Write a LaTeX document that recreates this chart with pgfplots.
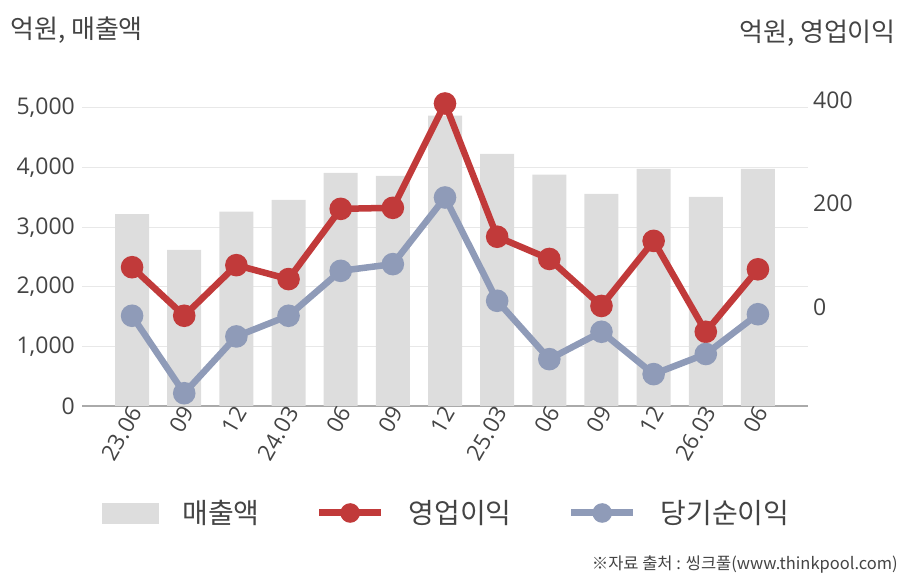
\documentclass[border=0pt]{standalone}
\usepackage{pgfplots}
\pgfplotsset{compat=1.18}
\usepackage{fontspec}
\setmainfont{Open Sans}
\newfontfamily\kr{Noto Sans CJK KR}
\definecolor{barcol}{HTML}{DDDDDD}
\definecolor{redc}{HTML}{C13A3A}
\definecolor{bluec}{HTML}{8F9BB8}
\definecolor{txt}{HTML}{444444}
\definecolor{gridc}{HTML}{E8E8E8}
\definecolor{axc}{HTML}{AAAAAA}
\begin{document}
\begin{tikzpicture}[x=1bp,y=1bp]
\path[use as bounding box] (0,0) rectangle (908,580);
\begin{axis}[
  at={(82bp,174bp)}, anchor=south west,
  scale only axis, width=726bp, height=327.8bp,
  xmin=-0.96, xmax=12.96, ymin=0, ymax=5500,
  axis lines*=left,
  y axis line style={draw=none},
  x axis line style={draw=axc, line width=1.2bp, -},
  major tick length=0pt,
  xtick={0,...,12},
  xticklabels={23.06,09,12,24.03,06,09,12,25.03,06,09,12,26.03,06},
  xticklabel style={rotate=60, anchor=east, font=\fontsize{22.5bp}{26bp}\selectfont, text=txt, inner sep=2bp, yshift=-5bp, xshift=2bp},
  ytick={0,1000,2000,3000,4000,5000},
  yticklabel style={font=\fontsize{23bp}{27bp}\selectfont, text=txt, inner sep=0pt, xshift=-7bp},
  /pgf/number format/assume math mode=true,
  /pgf/number format/1000 sep={,},
  ymajorgrids, grid style={gridc, line width=1bp},
  clip=false,
]
\addplot[ybar, bar width=34bp, fill=barcol, draw=none] coordinates {
(0,3220) (1,2620) (2,3260) (3,3460) (4,3910) (5,3860) (6,4870) (7,4230) (8,3880) (9,3560) (10,3980) (11,3510) (12,3980)};
\end{axis}
\begin{axis}[
  at={(82bp,174bp)}, anchor=south west,
  scale only axis, width=726bp, height=327.8bp,
  xmin=-0.96, xmax=12.96, ymin=-191.7, ymax=443,
  axis x line=none,
  axis y line*=right,
  y axis line style={draw=none},
  major tick length=0pt,
  ytick={0,200,400},
  yticklabel style={font=\fontsize{23bp}{27bp}\selectfont, text=txt, inner sep=0pt, xshift=5bp, anchor=west},
  /pgf/number format/assume math mode=true,
  clip=false,
  legend columns=3,
  legend style={at={(rel axis cs:0.0275,-0.3264)}, anchor=west, draw=none, fill=none, inner sep=0pt, outer sep=0pt,
    font=\kr\fontsize{28bp}{33bp}\selectfont, text=txt,
    nodes={inner sep=0pt},
    /tikz/every odd column/.append style={column sep=24bp},
    /tikz/every even column/.append style={column sep=56bp}},
]
\addlegendimage{legend image code/.code={\fill[barcol] (0bp,-10bp) rectangle (56bp,10bp);}}
\addlegendentry{매출액}
\addplot[redc, line width=6.5bp, mark=*, mark size=8bp, mark options={fill=redc, draw=none},
  legend image code/.code={\draw[redc, line width=7bp] (0bp,0bp) -- (62bp,0bp); \fill[redc] (31bp,0bp) circle (6.5bp);}]
  coordinates {(0,77) (1,-17) (2,81) (3,54) (4,190) (5,192) (6,394) (7,136) (8,93) (9,2) (10,128) (11,-48) (12,73)};
\addlegendentry{영업이익}
\addplot[bluec, line width=6.5bp, mark=*, mark size=8bp, mark options={fill=bluec, draw=none},
  legend image code/.code={\draw[bluec, line width=7bp] (0bp,0bp) -- (62bp,0bp); \fill[bluec] (31bp,0bp) circle (6.5bp);}]
  coordinates {(0,-17) (1,-167) (2,-57) (3,-17) (4,70) (5,83) (6,212) (7,12) (8,-101) (9,-48) (10,-130) (11,-91) (12,-14)};
\addlegendentry{당기순이익}
\end{axis}
\node[anchor=west, text=txt, font=\kr\fontsize{26bp}{30bp}\selectfont, inner sep=0pt] at (10,550) {억원, 매출액};
\node[anchor=east, text=txt, font=\kr\fontsize{26bp}{30bp}\selectfont, inner sep=0pt] at (896,547) {억원, 영업이익};
\node[anchor=east, text=txt, font=\kr\fontsize{16.5bp}{20bp}\selectfont, inner sep=0pt] at (898,15) {※자료 출처 : 씽크풀(www.thinkpool.com)};
\end{tikzpicture}
\end{document}
